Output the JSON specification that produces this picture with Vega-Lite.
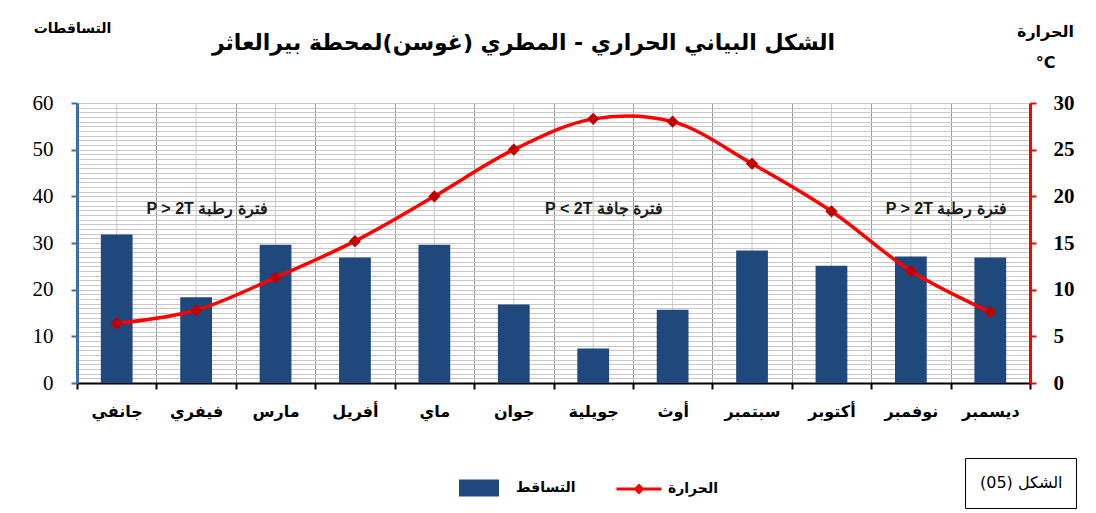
{
  "$schema": "https://vega.github.io/schema/vega-lite/v6.json",
  "width": 953,
  "height": 280,
  "autosize": "none",
  "padding": {"left": 77, "top": 103, "right": 66, "bottom": 130},
  "background": "white",
  "config": {"view": {"stroke": null}, "font": "DejaVu Sans"},
  "title": {
    "text": "الشكل البياني الحراري - المطري (غوسن)لمحطة بيرالعاثر",
    "fontSize": 22,
    "fontWeight": "bold",
    "font": "DejaVu Sans",
    "color": "black",
    "anchor": "middle",
    "dx": -30,
    "offset": 0,
    "dy": 34
  },
  "datasets": {
    "climate": [
      {"month": "جانفي", "precip": 31.8, "temp": 6.4},
      {"month": "فيفري", "precip": 18.4, "temp": 7.8},
      {"month": "مارس", "precip": 29.6, "temp": 11.3},
      {"month": "أفريل", "precip": 26.9, "temp": 15.2},
      {"month": "ماي", "precip": 29.6, "temp": 20.0},
      {"month": "جوان", "precip": 16.8, "temp": 25.0},
      {"month": "جويلية", "precip": 7.4, "temp": 28.3},
      {"month": "أوث", "precip": 15.7, "temp": 28.0},
      {"month": "سبتمبر", "precip": 28.4, "temp": 23.5},
      {"month": "أكتوبر", "precip": 25.1, "temp": 18.4},
      {"month": "نوفمبر", "precip": 27.1, "temp": 12.0},
      {"month": "ديسمبر", "precip": 26.9, "temp": 7.6}
    ]
  },
  "layer": [
    {
      "data": {"name": "climate"},
      "mark": {"type": "rule", "color": "#CACACA", "strokeWidth": 1},
      "encoding": {
        "x": {"field": "month", "type": "nominal", "sort": null}
      }
    },
    {
      "data": {"name": "climate"},
      "mark": {"type": "bar", "width": {"band": 0.4}},
      "encoding": {
        "x": {
          "field": "month", "type": "nominal", "sort": null,
          "scale": {"paddingInner": 0, "paddingOuter": 0},
          "axis": {
            "title": null,
            "labelAngle": 0,
            "labelAlign": "center",
            "tickBand": "extent",
            "grid": true,
            "gridColor": "#9A9A9A",
            "gridWidth": 1,
            "domainColor": "black",
            "domainWidth": 2,
            "tickColor": "black",
            "tickWidth": 2,
            "tickSize": 6,
            "labelPadding": 22,
            "labelFont": "DejaVu Sans",
            "labelFontWeight": "bold",
            "labelFontSize": 16,
            "labelColor": "black"
          }
        },
        "y": {
          "field": "precip", "type": "quantitative",
          "scale": {"domain": [0, 60], "nice": false},
          "axis": {
            "orient": "left",
            "title": "التساقطات",
            "titleAngle": 0,
            "titleX": -5,
            "titleY": -75,
            "titleAlign": "center",
            "titleBaseline": "middle",
            "titleFont": "DejaVu Sans",
            "titleFontSize": 14,
            "titleFontWeight": "bold",
            "titleColor": "black",
            "values": [0,1,2,3,4,5,6,7,8,9,10,11,12,13,14,15,16,17,18,19,20,21,22,23,24,25,26,27,28,29,30,31,32,33,34,35,36,37,38,39,40,41,42,43,44,45,46,47,48,49,50,51,52,53,54,55,56,57,58,59,60],
            "labelExpr": "datum.value % 10 === 0 ? datum.label : ''",
            "tickOpacity": {"condition": {"test": "datum.value % 10 === 0", "value": 1}, "value": 0},
            "grid": true,
            "gridColor": "#C8C8C8",
            "gridWidth": 1,
            "domainColor": "#3D6FA8",
            "domainWidth": 3,
            "tickColor": "#3D6FA8",
            "tickWidth": 2,
            "tickSize": 6,
            "labelPadding": 18,
            "labelFont": "Liberation Serif",
            "labelFontSize": 21,
            "labelColor": "black"
          }
        },
        "fill": {
          "datum": "التساقط", "type": "nominal",
          "scale": {"range": ["#1F497D"]},
          "legend": {
            "orient": "none",
            "legendX": 382,
            "legendY": 365,
            "title": null,
            "padding": 0,
            "symbolType": "M-1,-0.42H1V0.42H-1Z",
            "symbolSize": 1600,
            "symbolStrokeWidth": 0,
            "labelOffset": 17,
            "labelFont": "DejaVu Sans",
            "labelFontSize": 14,
            "labelFontWeight": "bold",
            "labelColor": "black"
          }
        }
      }
    },
    {
      "data": {"name": "climate"},
      "mark": {
        "type": "line",
        "interpolate": "catmull-rom",
        "strokeWidth": 3.5,
        "point": {"shape": "diamond", "filled": true, "fill": "#C00000", "size": 150, "strokeWidth": 0}
      },
      "encoding": {
        "x": {"field": "month", "type": "nominal", "sort": null},
        "y": {
          "field": "temp", "type": "quantitative",
          "scale": {"domain": [0, 30], "nice": false},
          "axis": {
            "orient": "right",
            "title": ["الحرارة", "°C"],
            "titleAngle": 0,
            "titleX": 15,
            "titleY": -67,
            "titleAlign": "center",
            "titleBaseline": "alphabetic",
            "titleLineHeight": 31,
            "titleFont": "DejaVu Sans",
            "titleFontSize": 16,
            "titleFontWeight": "bold",
            "titleColor": "black",
            "values": [0, 5, 10, 15, 20, 25, 30],
            "grid": false,
            "domainColor": "#FF0000",
            "domainWidth": 3,
            "tickColor": "#FF0000",
            "tickWidth": 2,
            "tickSize": 6,
            "labelPadding": 17,
            "labelFont": "Liberation Serif",
            "labelFontSize": 21,
            "labelFontWeight": "bold",
            "labelColor": "black"
          }
        },
        "stroke": {
          "datum": "الحرارة", "type": "nominal",
          "scale": {"range": ["#FF0000"]},
          "legend": {
            "orient": "none",
            "legendX": 538,
            "legendY": 362,
            "title": null,
            "padding": 0,
            "symbolType": "M-1,0H1M-0.15,0L0,-0.15L0.15,0L0,0.15Z",
            "symbolSize": 2025,
            "symbolStrokeWidth": 3,
            "symbolFillColor": "#C00000",
            "labelOffset": 5,
            "labelFont": "DejaVu Sans",
            "labelFontSize": 14,
            "labelFontWeight": "bold",
            "labelColor": "black"
          }
        }
      }
    },
    {
      "data": {"values": [
        {"month": "فيفري", "label": "P > 2T   فترة رطبة", "level": 37.3},
        {"month": "جويلية", "label": "P < 2T   فترة جافة", "level": 37.3}
      ]},
      "mark": {"type": "text", "dx": 11, "fontSize": 16, "fontWeight": "bold", "font": "Liberation Sans", "color": "#1a1a1a", "baseline": "middle"},
      "encoding": {
        "x": {"field": "month", "type": "nominal", "sort": null},
        "y": {"field": "level", "type": "quantitative", "scale": {"domain": [0, 60], "nice": false}, "axis": null},
        "text": {"field": "label"}
      }
    },
    {
      "data": {"values": [
        {"month": "ديسمبر", "label": "P > 2T  فترة رطبة", "level": 37.3}
      ]},
      "mark": {"type": "text", "dx": -44, "fontSize": 16, "fontWeight": "bold", "font": "Liberation Sans", "color": "#1a1a1a", "baseline": "middle"},
      "encoding": {
        "x": {"field": "month", "type": "nominal", "sort": null},
        "y": {"field": "level", "type": "quantitative", "scale": {"domain": [0, 60], "nice": false}, "axis": null},
        "text": {"field": "label"}
      }
    },
    {
      "data": {"values": [{"fig": "الشكل (05)"}]},
      "mark": {"type": "point", "opacity": 0},
      "encoding": {
        "shape": {
          "field": "fig", "type": "nominal",
          "legend": {
            "orient": "none",
            "legendX": 888,
            "legendY": 355,
            "title": null,
            "padding": 13,
            "strokeColor": "black",
            "fillColor": "white",
            "symbolSize": 576,
            "symbolOpacity": 0,
            "symbolStrokeWidth": 0,
            "labelOffset": -22,
            "labelFont": "DejaVu Sans",
            "labelFontSize": 16,
            "labelColor": "black"
          }
        }
      }
    }
  ],
  "resolve": {"scale": {"y": "independent"}}
}
